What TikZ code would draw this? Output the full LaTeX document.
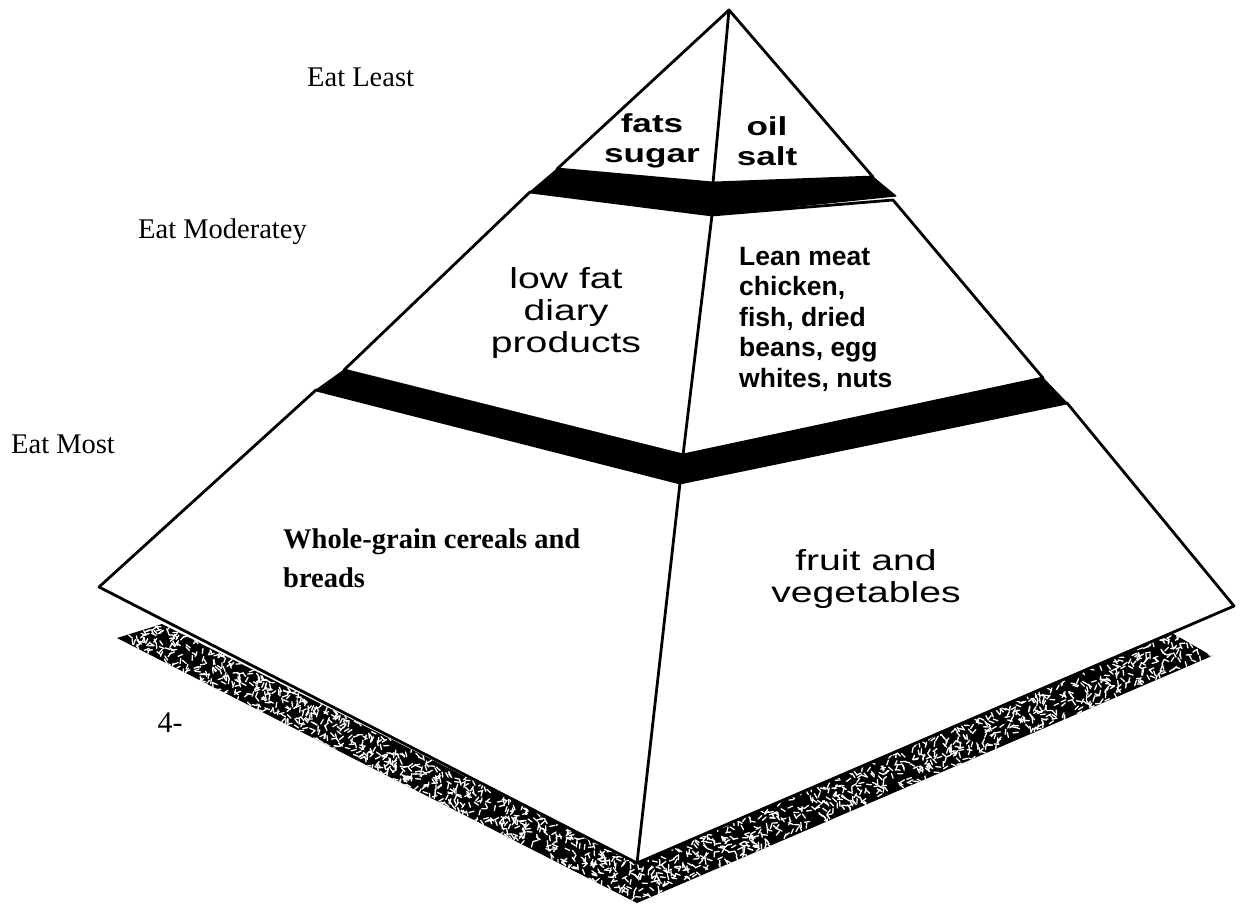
\documentclass[tikz,border=0pt]{standalone}
\usepackage{fontspec}
\setmainfont{Liberation Serif}
\newfontfamily\widesans[FakeStretch=1.35]{Liberation Sans}
\newfontfamily\plainsans{Liberation Sans}
\usetikzlibrary{calc}
\begin{document}
\begin{tikzpicture}[x=1pt,y=-1pt,
  edge/.style={line width=2.8pt,line join=round,line cap=round},
  face/.style={edge,fill=white},
  band/.style={fill=black,draw=black,line width=1pt,line join=round},
  side/.style={font=\fontsize{28.5}{32}\selectfont,inner sep=0pt},
  toptext/.style={font=\widesans\bfseries\fontsize{26}{30}\selectfont,align=center,inner sep=0pt},
  midtext/.style={font=\widesans\fontsize{29}{32}\selectfont,align=center,inner sep=0pt},
  meattext/.style={font=\plainsans\bfseries\fontsize{26.5}{30.5}\selectfont,align=left,inner sep=0pt},
  graintext/.style={font=\bfseries\fontsize{28.5}{39}\selectfont,align=left,inner sep=0pt},
  speck/.style={white,line width=1.3pt,line cap=round}]
\useasboundingbox (0,0) rectangle (1241,904);

% vertices
\coordinate (apex) at (729,10);
\coordinate (tL) at (557,169);
\coordinate (tC) at (713,183);
\coordinate (tR) at (873,177);
\coordinate (b1L) at (530,192);
\coordinate (b1R) at (896,196);
\coordinate (mTC) at (712,215);
\coordinate (mTR) at (893,200);
\coordinate (mBL) at (344,370);
\coordinate (mBC) at (683,455);
\coordinate (mBR) at (1043,378);
\coordinate (b2L) at (316,390);
\coordinate (lTC) at (680,483);
\coordinate (lTR) at (1067,403);
\coordinate (lR) at (1234,606);
\coordinate (lB) at (637,863);
\coordinate (lL) at (99,587);
\coordinate (b3L) at (117,638);
\coordinate (b3TL) at (162,624);
\coordinate (b3TR) at (1172,633);
\coordinate (b3R) at (1212,656);
\coordinate (b3B) at (637,903);

% speckled base band
\fill[black] (b3L) -- (b3TL) -- (lB) -- (b3TR) -- (b3R) -- (b3B) -- cycle;
\begin{scope}
  \clip (b3L) -- (b3TL) -- (lB) -- (b3TR) -- (b3R) -- (b3B) -- cycle;
  \pgfmathsetseed{11}
  \foreach \i in {1,...,800}{
    \pgfmathsetmacro\u{rnd}\pgfmathsetmacro\v{rnd}\pgfmathsetmacro\a{rnd*180}
    \draw[speck] ($($(b3L)!\u!(b3B)$)!\v!($(b3TL)!\u!(lB)$)$) ++(\a:-2.5) -- ++(\a:5);
  }
  \foreach \i in {1,...,800}{
    \pgfmathsetmacro\u{rnd}\pgfmathsetmacro\v{rnd}\pgfmathsetmacro\a{rnd*180}
    \draw[speck] ($($(b3B)!\u!(b3R)$)!\v!($(lB)!\u!(b3TR)$)$) ++(\a:-2.5) -- ++(\a:5);
  }
\end{scope}

% bottom tier
\draw[face] (b2L) -- (lTC) -- (lTR) -- (lR) -- (lB) -- (lL) -- cycle;
% band 2
\draw[band] (b2L) -- (mBL) -- (mBC) -- (mBR) -- (lTR) -- (lTC) -- cycle;
% middle tier
\draw[face] (b1L) -- (mTC) -- (mTR) -- (mBR) -- (mBC) -- (mBL) -- cycle;
% band 1
\draw[band] (b1L) -- (tL) -- (tC) -- (tR) -- (b1R) -- (mTC) -- cycle;
% top tier
\draw[face] (apex) -- (tL) -- (tC) -- (tR) -- cycle;

% central ridge
\draw[edge] (apex) -- (tC);
\draw[edge] (mTC) -- (mBC);
\draw[edge] (lTC) -- (lB);

% side labels
\node[side,anchor=base west] (least) at (307,87) {Eat Least};
\node[side,anchor=base west] (moderate) at (138,238) {Eat Moderatey};
\node[side,anchor=base west] (most) at (11,453) {Eat Most};

% food labels
\node[toptext] (fats) at (652,141) {fats\\sugar};
\node[toptext] (oil) at (767,141) {oil\\salt};
\node[midtext] (dairy) at (566,313) {low fat\\diary\\products};
\node[meattext,anchor=west] (meat) at (739,319) {Lean meat\\chicken,\\fish, dried\\beans, egg\\whites, nuts};
\node[graintext,anchor=west] (grain) at (283,558) {Whole-grain cereals and\\breads};
\node[midtext] (fruit) at (866,579) {fruit and\\vegetables};
\node[font=\fontsize{30}{30}\selectfont,inner sep=0pt] (page) at (170,723) {4-};
\end{tikzpicture}
\end{document}
